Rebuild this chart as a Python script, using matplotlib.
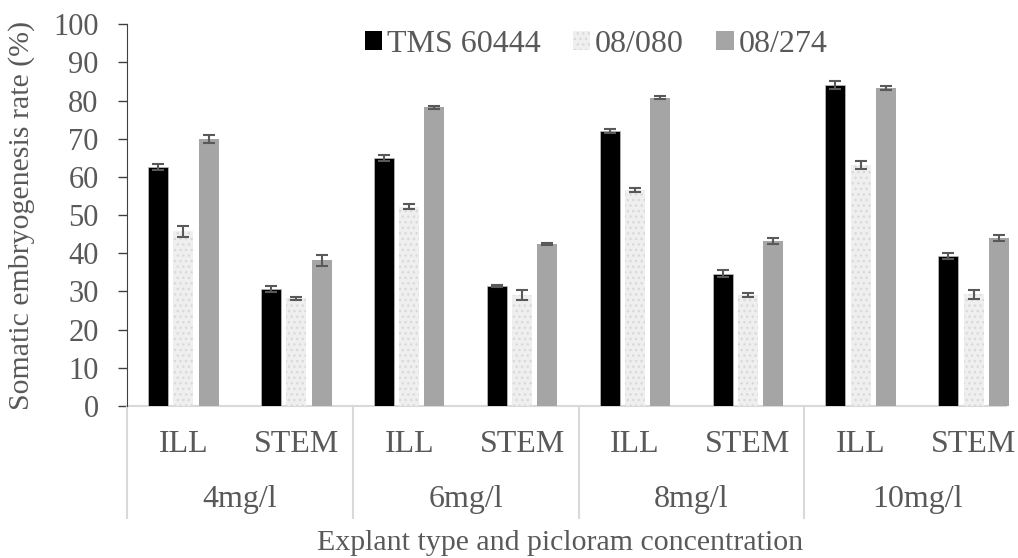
import numpy as np
import matplotlib
matplotlib.use("Agg")
import matplotlib.pyplot as plt
from matplotlib.patches import Patch
from matplotlib.transforms import blended_transform_factory

# Data
explants = ["ILL", "STEM", "ILL", "STEM", "ILL", "STEM", "ILL", "STEM"]
concentrations = ["4mg/l", "6mg/l", "8mg/l", "10mg/l"]
series_names = ["TMS 60444", "08/080", "08/274"]

tms60444 = [62.5, 30.6, 65.0, 31.4, 72.0, 34.7, 84.1, 39.2]
s08_080 = [45.8, 28.2, 52.2, 29.0, 56.6, 29.1, 63.1, 29.3]
s08_274 = [70.0, 38.2, 78.3, 42.4, 80.8, 43.2, 83.3, 44.0]

err_tms = [0.8, 0.8, 0.7, 0.3, 0.5, 1.0, 1.0, 0.8]
err_080 = [1.4, 0.3, 0.6, 1.3, 0.5, 0.5, 1.0, 1.2]
err_274 = [1.0, 1.4, 0.4, 0.2, 0.3, 0.8, 0.6, 0.8]

plt.rcParams['font.family'] = ['Liberation Serif', 'DejaVu Serif']
text_color = '#595959'

fig = plt.figure(figsize=(10.18, 5.58), dpi=100)
ax = fig.add_axes([127 / 1018, 152 / 558, 903 / 1018, 381.7 / 558])

x = np.arange(len(explants))
w = 0.177
step = 0.224
err_kw = dict(ecolor='#595959', elinewidth=1.5, capsize=4.5, capthick=1.5)

ax.bar(x - step, tms60444, w, color='black', edgecolor='#bfbfbf', linewidth=0.5,
       yerr=err_tms, error_kw=err_kw, zorder=2)
ax.bar(x, s08_080, w, color='#efefef', edgecolor='#d9d9d9', hatch='...',
       linewidth=0, yerr=err_080, error_kw=err_kw, zorder=2)
ax.bar(x + step, s08_274, w, color='#a5a5a5', yerr=err_274, error_kw=err_kw, zorder=2)

ax.set_xlim(-0.5, 7.5)
ax.set_ylim(0, 100)
ax.set_yticks(np.arange(0, 101, 10))
ax.tick_params(axis='y', direction='out', length=6.5, width=1, color='#404040',
               labelsize=22, labelcolor=text_color, pad=14)
ax.set_xticks([])

for side in ['top', 'right', 'bottom']:
    ax.spines[side].set_visible(False)
ax.spines['left'].set_color('#404040')

# light x axis line that stops short of the right edge
ax.plot([-0.5, 7.29], [0, 0], color='#d9d9d9', lw=1.5, clip_on=False, zorder=1)

fig.text(22 / 1018, 1 - 215 / 558, "Somatic embryogenesis rate (%)", rotation=90,
         ha='center', va='center', fontsize=21.5, color=text_color)

# two-level category labels below the axis
trans = blended_transform_factory(ax.transData, fig.transFigure)
for i, lab in enumerate(explants):
    ax.text(x[i], 1 - 444 / 558, lab, transform=trans, ha='center', va='center',
            fontsize=23, color=text_color)
for j, conc in enumerate(concentrations):
    ax.text(2 * j + 0.5, 1 - 499 / 558, conc, transform=trans, ha='center', va='center',
            fontsize=23, color=text_color)
for k in range(4):
    ax.plot([2 * k - 0.5, 2 * k - 0.5], [152 / 558, 1 - 518 / 558], transform=trans,
            color='#d9d9d9', lw=1.5, clip_on=False)

fig.text(560 / 1018, 1 - 543 / 558, "Explant type and picloram concentration",
         ha='center', va='center', fontsize=21.5, color=text_color)

handles = [Patch(facecolor='black'),
           Patch(facecolor='#efefef', edgecolor='#d9d9d9', hatch='...', linewidth=0),
           Patch(facecolor='#a5a5a5')]
leg = fig.legend(handles, series_names, loc='center', bbox_to_anchor=(596 / 1018, 1 - 44 / 558),
                 ncol=3, frameon=False, fontsize=23, handlelength=0.55, handleheight=0.55,
                 handletextpad=0.15, columnspacing=1.0)
for t in leg.get_texts():
    t.set_color(text_color)

fig.savefig("out.png", dpi=100)
